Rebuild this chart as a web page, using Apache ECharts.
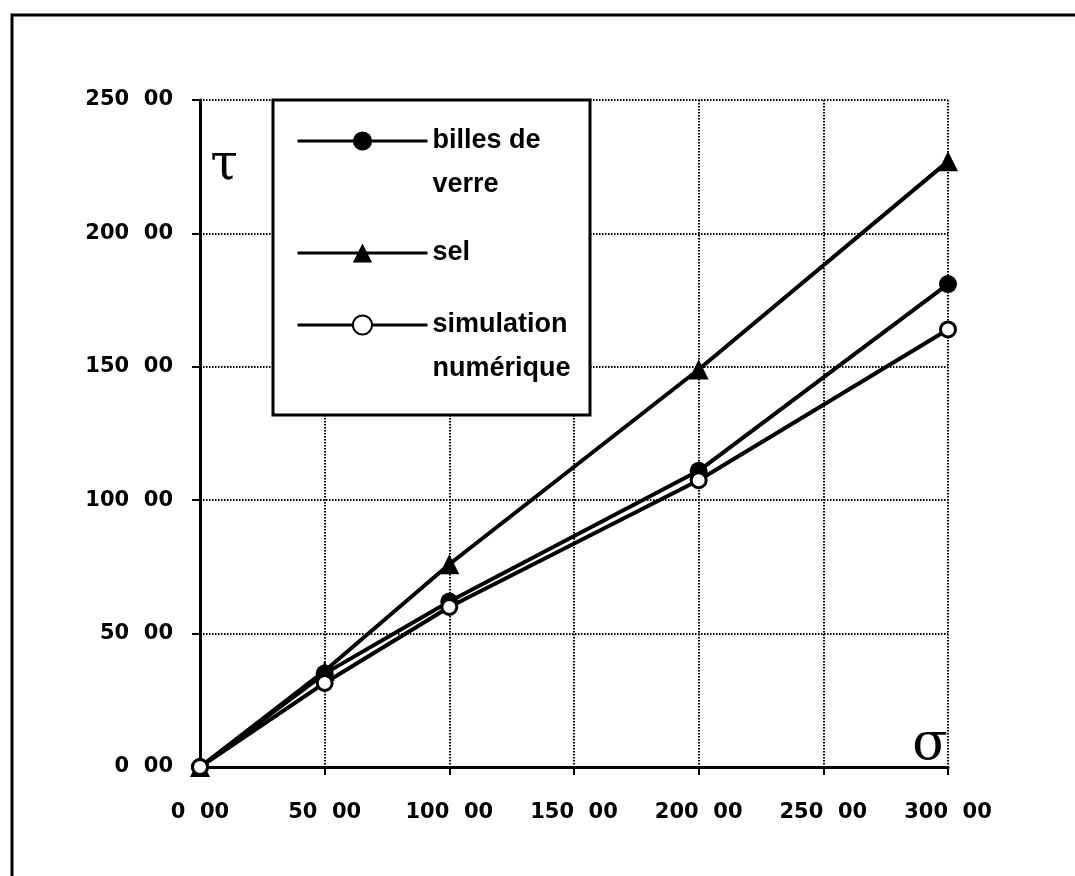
<!DOCTYPE html>
<html>
<head>
<meta charset="utf-8">
<script src="https://cdn.jsdelivr.net/npm/echarts@6/dist/echarts.min.js"></script>
<style>
html,body{margin:0;padding:0;background:#fff;}
#chart{width:1075px;height:876px;}
</style>
</head>
<body>
<div id="chart"></div>
<script>
const xValues = [0, 50, 100, 200, 300];
const billes = [0, 35, 62, 111, 181];
const sel = [0, 36, 76, 149, 227];
const simulation = [0, 31.5, 60, 107.5, 164];
const xTickLabels = ['0  00', '50  00', '100  00', '150  00', '200  00', '250  00', '300  00'];
const yTickLabels = ['0  00', '50  00', '100  00', '150  00', '200  00', '250  00'];
const seriesNames = ['billes de verre', 'sel', 'simulation numérique'];
const legendLabels = ['billes de\nverre', 'sel', 'simulation\nnumérique'];

const pairs = arr => xValues.map((x, i) => [x, arr[i]]);

const axisFont = { fontFamily: 'DejaVu Sans', fontWeight: 'bold', fontSize: 21, color: '#000' };
const legendText = {
  fontFamily: 'Liberation Sans', fontWeight: 'bold', fontSize: 27,
  color: '#000', lineHeight: 44
};
const legendTops = [75, 231, 259];

const chart = echarts.init(document.getElementById('chart'), null, { renderer: 'canvas' });
chart.setOption({
  backgroundColor: '#fff',
  animation: false,
  grid: { left: 200, right: 127, top: 100, bottom: 109, containLabel: false },
  xAxis: {
    type: 'value', min: 0, max: 300, interval: 50,
    axisLine: { show: true, lineStyle: { color: '#000', width: 3 } },
    axisTick: { show: true, length: 8, lineStyle: { color: '#000', width: 2 } },
    axisLabel: Object.assign({ margin: 35, formatter: v => xTickLabels[Math.round(v / 50)] }, axisFont),
    splitLine: { show: true, lineStyle: { color: '#000', width: 2, type: [1.5, 1.5] } }
  },
  yAxis: {
    type: 'value', min: 0, max: 250, interval: 50,
    axisLine: { show: true, lineStyle: { color: '#000', width: 3 } },
    axisTick: { show: true, length: 8, lineStyle: { color: '#000', width: 2 } },
    axisLabel: Object.assign({ margin: 27, formatter: v => yTickLabels[Math.round(v / 50)] }, axisFont),
    splitLine: { show: true, lineStyle: { color: '#000', width: 2, type: [1.5, 1.5] } }
  },
  legend: seriesNames.map((n, i) => ({
    data: [n],
    left: 296, top: legendTops[i], padding: 0,
    orient: 'vertical',
    itemWidth: 130, itemHeight: 24,
    selectedMode: false,
    lineStyle: { width: 3 },
    textStyle: legendText,
    formatter: name => {
      const lbl = legendLabels[seriesNames.indexOf(name)];
      return lbl.indexOf('\n') >= 0 ? '\n' + lbl : lbl;
    },
    z: 5
  })),
  graphic: [
    { type: 'rect', z: 1, shape: { x: 12, y: 15, width: 1100, height: 900 },
      style: { fill: 'none', stroke: '#000', lineWidth: 3 } },
    { type: 'rect', z: 3, shape: { x: 273, y: 100, width: 317, height: 315 },
      style: { fill: '#fff', stroke: '#000', lineWidth: 3 } },
    { type: 'text', z: 3, x: 224, y: 166,
      style: { text: 'τ', font: '50px "DejaVu Serif"', fill: '#000', textAlign: 'center', textVerticalAlign: 'middle' } },
    { type: 'text', z: 3, x: 930, y: 745,
      style: { text: 'σ', font: '52px "DejaVu Serif"', fill: '#000', textAlign: 'center', textVerticalAlign: 'middle' } }
  ],
  series: [
    {
      name: seriesNames[0], type: 'line', data: pairs(billes), z: 2,
      symbol: 'circle', symbolSize: 18,
      lineStyle: { color: '#000', width: 4 },
      itemStyle: { color: '#000' }
    },
    {
      name: seriesNames[1], type: 'line', data: pairs(sel), z: 2,
      symbol: 'triangle', symbolSize: 20,
      lineStyle: { color: '#000', width: 4 },
      itemStyle: { color: '#000' }
    },
    {
      name: seriesNames[2], type: 'line', data: pairs(simulation), z: 2,
      symbol: 'circle', symbolSize: 15,
      lineStyle: { color: '#000', width: 4 },
      itemStyle: { color: '#fff', borderColor: '#000', borderWidth: 3 }
    }
  ]
});
</script>
</body>
</html>
